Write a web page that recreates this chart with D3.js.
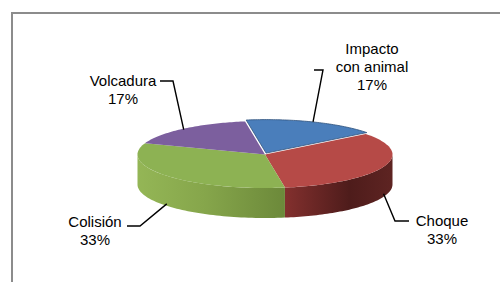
<!DOCTYPE html>
<html><head><meta charset="utf-8">
<script src="https://cdn.jsdelivr.net/npm/d3@7"></script>
<style>html,body{margin:0;padding:0;background:#fff;}svg{display:block;}</style>
</head><body>
<svg id="c" width="500" height="282"></svg>
<script>
// ---- data ----
const categories = ["Impacto con animal", "Choque", "Colisión", "Volcadura"];
const labelLines = [["Impacto", "con animal"], ["Choque"], ["Colisión"], ["Volcadura"]];
const values = [17, 33, 33, 17];
const percentLabels = ["17%", "33%", "33%", "17%"];

// ---- styles / layout ----
const topColors = ["#4a7ebb", "#b64a47", "#8db253", "#7c5f9e"];
const sideGrad = [null, ["#83302e", "#4e1c1b", "#5e2422"], ["#94b656", "#86a64b", "#6c893a"], null];
const cx = 265, cy = 154.5, rx = 127.5, ry = 33.5, depth = 30;
const rot = -9 * Math.PI / 180;
const explode = [3, 0, 0, 0];
// label layout: text center x, first baseline, leader polyline end + elbow, anchor depth on wall
const labelLayout = [
  {tx: 372, ty: 53.5, elbow: [[323, 70], [314, 70]], wall: 0},
  {tx: 442, ty: 226, elbow: [[395, 221], [409, 221]], wall: 27},
  {tx: 95, ty: 227, elbow: [[140, 226], [127, 226]], wall: 28},
  {tx: 123, ty: 85.5, elbow: [[173, 81], [160, 81]], wall: 1}
];

const svg = d3.select("#c");
const defs = svg.append("defs");

// border
svg.append("path").attr("d", "M12,283 V13 H500").attr("fill", "none")
  .attr("stroke", "#8c8c8c").attr("stroke-width", 2);

const pie = d3.pie().sort(null).value(d => d).startAngle(rot).endAngle(rot + 2 * Math.PI);
const arcs = pie(values);

function pt(a, dx = 0, dy = 0) {
  return [cx + dx + rx * Math.sin(a), cy + dy - ry * Math.cos(a)];
}
function offs(i, a) {
  const e = explode[i];
  return [e * Math.sin(a), -e * Math.cos(a) * 0.5];
}
const line = d3.line();

// side walls (front half only)
const front0 = Math.PI / 2, front1 = 3 * Math.PI / 2;
arcs.forEach((d, i) => {
  const s = Math.max(d.startAngle, front0), e = Math.min(d.endAngle, front1);
  if (e <= s) return;
  const [ox, oy] = offs(i, (d.startAngle + d.endAngle) / 2);
  const n = 60, pts = [];
  for (let k = 0; k <= n; k++) pts.push(pt(s + (e - s) * k / n, ox, oy));
  for (let k = n; k >= 0; k--) pts.push(pt(s + (e - s) * k / n, ox, oy + depth));
  const g = sideGrad[i];
  const x0 = pt(s)[0], x1 = pt(e)[0];
  const id = "sg" + i;
  const lg = defs.append("linearGradient").attr("id", id).attr("gradientUnits", "userSpaceOnUse")
    .attr("x1", Math.min(x0, x1)).attr("x2", Math.max(x0, x1)).attr("y1", 0).attr("y2", 0);
  const stops = x0 > x1 ? g : g; // color order defined left->right
  if (i === 1) {
    lg.append("stop").attr("offset", 0).attr("stop-color", stops[0]);
    lg.append("stop").attr("offset", 0.6).attr("stop-color", stops[1]);
    lg.append("stop").attr("offset", 1).attr("stop-color", stops[2]);
  } else {
    lg.append("stop").attr("offset", 0).attr("stop-color", stops[0]);
    lg.append("stop").attr("offset", 0.45).attr("stop-color", stops[1]);
    lg.append("stop").attr("offset", 1).attr("stop-color", stops[2]);
  }
  svg.append("path").attr("d", line(pts) + "Z").attr("fill", `url(#${id})`);
});

// top faces
arcs.forEach((d, i) => {
  const [ox, oy] = offs(i, (d.startAngle + d.endAngle) / 2);
  const n = 60, pts = [[cx + ox, cy + oy]];
  for (let k = 0; k <= n; k++) pts.push(pt(d.startAngle + (d.endAngle - d.startAngle) * k / n, ox, oy));
  svg.append("path").attr("d", line(pts) + "Z").attr("fill", topColors[i])
    .attr("stroke", i === 0 ? "#2f527c" : "none").attr("stroke-width", i === 0 ? 0.8 : 0);
});

// labels and leaders
arcs.forEach((d, i) => {
  const L = labelLayout[i];
  const mid = (d.startAngle + d.endAngle) / 2;
  const [ox, oy] = offs(i, mid);
  const anchor = pt(mid, ox, oy + L.wall);
  svg.append("path").attr("d", line([anchor, L.elbow[0], L.elbow[1]]))
    .attr("fill", "none").attr("stroke", "#000").attr("stroke-width", 1.4);
  const t = svg.append("text").attr("x", L.tx).attr("y", L.ty).attr("text-anchor", "middle")
    .attr("font-family", "Liberation Sans, Arial, sans-serif").attr("font-size", 15).attr("fill", "#000");
  const lines = labelLines[i].concat([percentLabels[i]]);
  lines.forEach((s, k) => t.append("tspan").attr("x", L.tx).attr("dy", k === 0 ? 0 : 18.2).text(s));
});
</script>
</body></html>
